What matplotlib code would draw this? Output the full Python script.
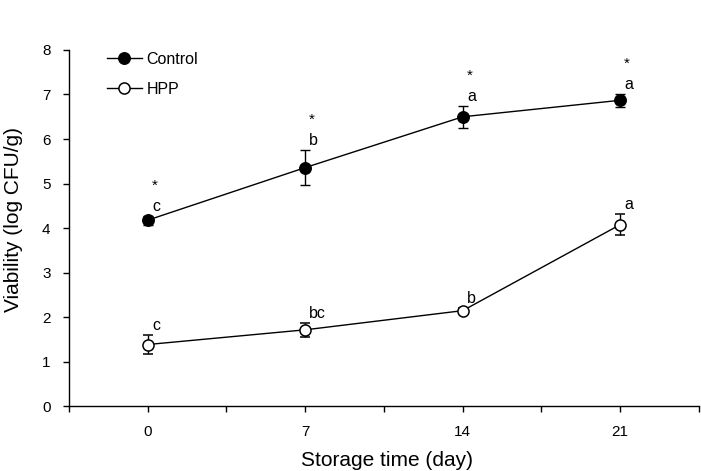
# Viability of probiotic counts during storage: Control vs HPP
import matplotlib
matplotlib.use('Agg')
import matplotlib.pyplot as plt
from matplotlib.lines import Line2D
from matplotlib.ticker import MultipleLocator

plt.rcParams['font.family'] = ['Liberation Sans', 'DejaVu Sans']

# data
days = [0, 7, 14, 21]
control_mean = [4.18, 5.36, 6.50, 6.87]
control_err = [0.10, 0.40, 0.25, 0.15]
hpp_mean = [1.39, 1.72, 2.15, 4.08]
hpp_err = [0.22, 0.16, 0.05, 0.24]
control_letters = ['c', 'b', 'a', 'a']
hpp_letters = ['c', 'bc', 'b', 'a']
control_signif = ['*', '*', '*', '*']

fig = plt.figure(figsize=(7.01, 4.71), dpi=100)
ax = fig.add_axes([0.0984, 0.137, 0.8987, 0.757])

ax.errorbar(days, control_mean, yerr=control_err, color='black', lw=1.0,
            marker='o', ms=8.3, mfc='black', mec='black',
            capsize=3.6, capthick=1.0, elinewidth=1.0, zorder=3)
ax.errorbar(days, hpp_mean, yerr=hpp_err, color='black', lw=1.0,
            marker='o', ms=8.0, mfc='white', mec='black', mew=1.1,
            capsize=3.6, capthick=1.0, elinewidth=1.0, zorder=3)

# letters above each point, asterisks above control
for x, m, e, lab in zip(days, control_mean, control_err, control_letters):
    ax.annotate(lab, (x, m + e), xytext=(3, 3.6), textcoords='offset points',
                ha='left', va='baseline', fontsize=11.5)
for x, m, e, s in zip(days, control_mean, control_err, control_signif):
    ax.annotate(s, (x, m + e), xytext=(5, 18.5), textcoords='offset points',
                ha='center', va='baseline', fontsize=11)
for x, m, e, lab in zip(days, hpp_mean, hpp_err, hpp_letters):
    ax.annotate(lab, (x, m + e), xytext=(3, 3.6), textcoords='offset points',
                ha='left', va='baseline', fontsize=11.5)

ax.set_xlim(-3.5, 24.5)
ax.set_ylim(0, 8)
ax.set_xticks(days)
ax.xaxis.set_minor_locator(MultipleLocator(3.5))
ax.yaxis.set_major_locator(MultipleLocator(1))
ax.tick_params(axis='both', which='both', direction='out', length=4.3,
               width=1.0, labelsize=11, pad=9)
ax.spines['top'].set_visible(False)
ax.spines['right'].set_visible(False)
ax.spines['left'].set_linewidth(1.0)
ax.spines['bottom'].set_linewidth(1.0)

fig.text(387.5 / 701, 1 - 461 / 471, 'Storage time (day)',
         ha='center', va='center', fontsize=15)
fig.text(14 / 701, 1 - 220 / 471, 'Viability (log CFU/g)',
         ha='center', va='center', rotation=90, fontsize=15)

# legend: line + marker only
handles = [
    Line2D([], [], color='black', lw=1.0, marker='o', ms=8.3,
           mfc='black', mec='black', label='Control'),
    Line2D([], [], color='black', lw=1.0, marker='o', ms=8.0,
           mfc='white', mec='black', mew=1.1, label='HPP'),
]
ax.legend(handles=handles, loc='upper left', bbox_to_anchor=(0.06, 0.995),
          frameon=False, fontsize=11.5, handlelength=2.2, handletextpad=0.3,
          labelspacing=0.95, borderpad=0, borderaxespad=0)

fig.savefig('out.png', dpi=100)
